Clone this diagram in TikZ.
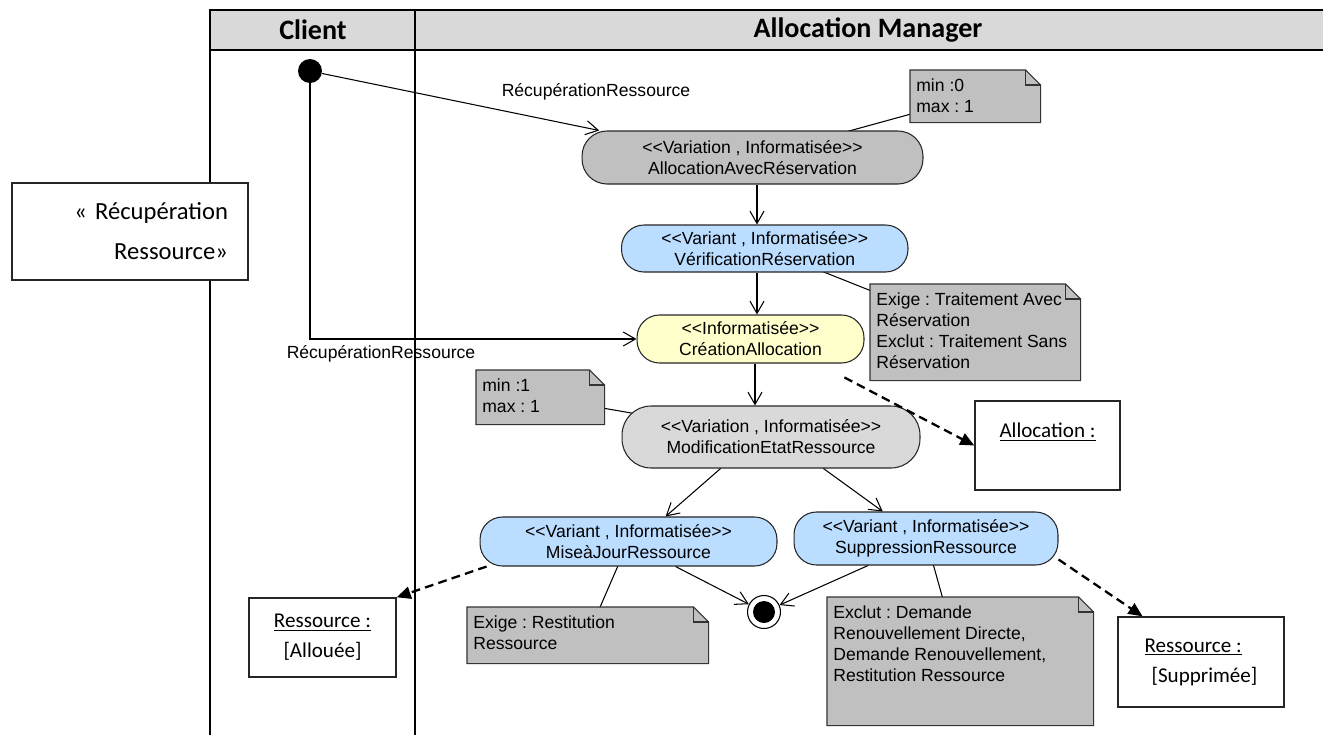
\documentclass[tikz,border=0pt]{standalone}
\usepackage{fontspec}
\setmainfont{Liberation Sans}[Ligatures=TeXOff]
\newfontfamily\calib{Carlito}[Ligatures=TeXOff]
\usepackage{tikz}
\usetikzlibrary{arrows.meta,positioning,backgrounds,calc}
\definecolor{lanegray}{HTML}{D9D9D9}
\definecolor{notegray}{HTML}{C0C0C0}
\definecolor{actgray}{HTML}{C0C0C0}
\definecolor{actlight}{HTML}{D9D9D9}
\definecolor{variantblue}{HTML}{BBDDFF}
\definecolor{compyellow}{HTML}{FFFFCC}
\frenchspacing
\newcommand\stereo[1]{<<#1>>}
% folded-corner outline behind a note node
\newcommand\dogear[1]{%
  \begin{scope}[on background layer]
    \filldraw[notefill] (#1.north west) -- ($(#1.north east)+(-15,0)$) -- ($(#1.north east)+(0,15)$)
      -- (#1.south east) -- (#1.south west) -- cycle;
    \draw[notefill,fill=none] ($(#1.north east)+(-15,0)$) |- ($(#1.north east)+(0,15)$);
  \end{scope}}

\begin{document}
\begin{tikzpicture}[
    x=0.02cm, y=-0.02cm,
    lane/.style={line width=1.2pt},
    lanehead/.style={font=\calib\bfseries\fontsize{16}{19}\selectfont},
    act/.style={draw=black!85,line width=0.6pt,rounded corners=0.45cm,align=center,inner sep=1pt,font=\fontsize{10}{12}\selectfont},
    varpt/.style={act,fill=actgray,rounded corners=0.5cm},
    varpt2/.style={act,fill=actlight,rounded corners=0.58cm},
    variant/.style={act,fill=variantblue},
    comp/.style={act,fill=compyellow},
    note/.style={anchor=north west,inner xsep=0.12cm,inner ysep=0.16cm,align=left,font=\fontsize{10}{12}\selectfont},
    notefill/.style={fill=notegray,draw=black!80,line width=0.6pt},
    obj/.style={draw=black!85,fill=white,line width=0.8pt,align=center,font=\calib\fontsize{12}{17}\selectfont},
    ctx/.style={draw=black!85,fill=white,line width=0.8pt,align=right,inner xsep=0.4cm,font=\calib\fontsize{14}{22.7}\selectfont},
    start/.style={circle,fill=black,minimum size=0.48cm,inner sep=0pt},
    final/.style={circle,draw,fill=white,line width=0.6pt,minimum size=0.66cm,inner sep=0pt,
      path picture={\fill[black] (path picture bounding box.center) circle (0.22cm);}},
    flow/.style={-{Straight Barb[length=7pt,width=8pt]},line width=0.6pt},
    objflow/.style={-{Triangle[length=8pt,width=7pt]},line width=1.3pt,dash pattern=on 5pt off 3pt},
    link/.style={line width=0.6pt},
    lbl/.style={font=\fontsize{10}{12}\selectfont}
  ]
    \useasboundingbox (0,0) rectangle (1323,735);

    % swimlanes
    \fill[lanegray] (210,10) rectangle (1323,50);
    \draw[lane] (1323,10) -- (210,10) -- (210,735);
    \draw[lane] (210,50) -- (1323,50);
    \draw[lane] (415,10) -- (415,735);
    \node[lanehead] (client) at (313,30) {Client};
    \node[lanehead] (mgr) at (868,30) {Allocation Manager};

    \node[ctx,text width=3.92cm,minimum height=1.94cm] (ctxbox) at (130,231.5) {« Récupération\\Ressource»};

    % actions
    \node[start] (init) at (310,71) {};
    \node[varpt,minimum width=6.82cm,minimum height=1.06cm] (aar) at (752.5,157.5) {\stereo{Variation , Informatisée}\\AllocationAvecRéservation};
    \node[variant,minimum width=5.73cm,minimum height=0.94cm] (ver) at (764.75,248.5) {\stereo{Variant , Informatisée}\\VérificationRéservation};
    \node[comp,minimum width=4.54cm,minimum height=0.96cm] (cre) at (750.5,339) {\stereo{Informatisée}\\CréationAllocation};
    \node[varpt2,minimum width=5.96cm,minimum height=1.24cm] (mod) at (771,437) {\stereo{Variation , Informatisée}\\ModificationEtatRessource};
    \node[variant,minimum width=5.94cm,minimum height=0.98cm] (maj) at (628.5,541.5) {\stereo{Variant , Informatisée}\\MiseàJourRessource};
    \node[variant,minimum width=5.28cm,minimum height=1.06cm] (sup) at (926,538.5) {\stereo{Variant , Informatisée}\\SuppressionRessource};
    \node[final] (fin) at (764,612) {};

    % objects
    \node[obj,minimum width=2.9cm,minimum height=1.78cm] (alloc) at (1047.5,445.5) {\underline{Allocation :}\\{}};
    \node[obj,minimum width=2.94cm,minimum height=1.58cm] (ralloc) at (322.5,637.5) {\underline{Ressource :}\\{[Allouée]}};
    \node[obj,align=left,minimum width=3.32cm,minimum height=1.8cm] (rsup) at (1201,662) {\underline{Ressource :}\\\hspace*{4pt}{[Supprimée]}};

    % notes
    \node[note] (n1) at (910,70) {\parbox[c][0.72cm][t]{2.36cm}{\raggedright min :0\\max : 1}};
    \node[note] (n2) at (870,284) {\parbox[c][1.6cm][t]{3.96cm}{\raggedright Exige : Traitement Avec\\Réservation\\Exclut : Traitement Sans\\Réservation}};
    \node[note] (n3) at (476,370) {\parbox[c][0.76cm][t]{2.32cm}{\raggedright min :1\\max : 1}};
    \node[note] (n4) at (467,607) {\parbox[c][0.8cm][t]{4.58cm}{\raggedright Exige : Restitution\\Ressource}};
    \node[note] (n5) at (827,597) {\parbox[c][2.24cm][t]{5.08cm}{\raggedright Exclut : Demande\\Renouvellement Directe,\\Demande Renouvellement,\\Restitution Ressource}};

    % control flow
    \draw[flow] (init) -- (aar.170);
    \node[lbl] (lbltop) at (596,92) {RécupérationRessource};
    \draw[flow] (init) |- (cre.west);
    \node[lbl] (lblside) at (381,354) {RécupérationRessource};
    \draw[flow] ([xshift=0.09cm]aar.south) -- ([xshift=0.09cm]aar.south |- ver.north);
    \draw[flow] ([xshift=0.13cm]cre.north |- ver.south) -- ([xshift=0.13cm]cre.north);
    \draw[flow] ([xshift=0.09cm]cre.south) -- ([xshift=0.09cm]cre.south |- mod.north);
    \draw[flow] (mod.212) -- (maj.34);
    \draw[flow] (mod.-31) -- (sup.148);
    \draw[flow] (maj.-28) -- (fin);
    \draw[flow] (sup.205) -- (fin);

    % object flow
    \draw[objflow,shorten <=0.6cm] (cre.-20) -- (alloc.west);
    \draw[objflow] (maj.190) -- (ralloc.north east);
    \draw[objflow] (sup.-9) -- (rsup.142);

    % note links
    \begin{scope}[on background layer]
      \draw[link] (n1.center) -- (aar.center);
      \draw[link] (n2.center) -- (ver.center);
      \draw[link] (n3.center) -- (mod.center);
      \draw[link] (n4.center) -- (maj.center);
      \draw[link] (n5.center) -- (sup.center);
    \end{scope}
    \dogear{n1}
    \dogear{n2}
    \dogear{n3}
    \dogear{n4}
    \dogear{n5}
\end{tikzpicture}
\end{document}
